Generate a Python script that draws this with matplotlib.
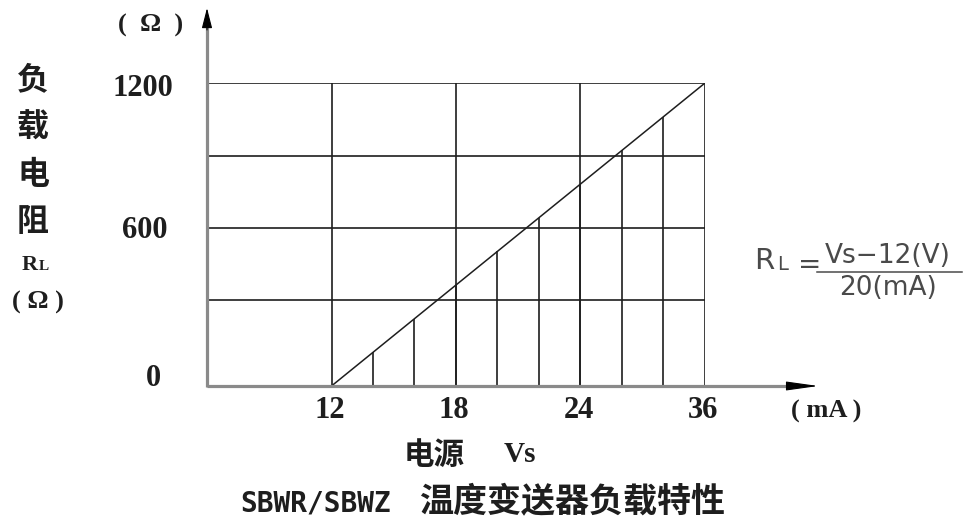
import numpy as np
import matplotlib
matplotlib.use("Agg")
import matplotlib.pyplot as plt
from matplotlib.lines import Line2D

# datos del grafico (columnas de la rejilla = tensiones marcadas)
x_labels = ["12", "18", "24", "36"]
x_cols = [1, 2, 3, 4]
grid_rows = [340, 625, 910, 1200]
y_labels = ["0", "600", "1200"]
y_label_pos = [0, 625, 1200]
linea_x = [1, 4]
linea_r = [0, 1200]
rayas_por_col = 3

W, H = 965, 525
fig = plt.figure(figsize=(W / 100, H / 100), dpi=100)
fig.patch.set_facecolor("white")

def px(x, y):
    return x / W, 1 - y / H

# ejes: origen en (207, 386), columna 36 en x=705, fila 1200 en y=83
ax = fig.add_axes([207 / W, (H - 386) / H, 498 / W, 303 / H])
ax.set_xlim(0, 4)
ax.set_ylim(0, 1200)
ax.axis("off")

negro = "#1e1e1e"
gris_eje = "#8a8a8a"

ax.vlines(x_cols, 0, 1200, color=negro, lw=1.2)
ax.hlines(grid_rows, 0, 4, color=negro, lw=1.2)

# recta de carga y rayado
ax.plot(linea_x, linea_r, color=negro, lw=1.1)
rayas_x = np.arange(linea_x[0], linea_x[1], 1 / rayas_por_col)[1:]
rayas_r = np.interp(rayas_x, linea_x, linea_r)
ax.vlines(rayas_x, 0, rayas_r, color=negro, lw=1.2)

# ejes con flecha
ax.plot([0, 4.70], [0, 0], color=gris_eje, lw=2.3, clip_on=False, solid_capstyle="butt")
ax.plot([0, 0], [-4, 1425], color=gris_eje, lw=2.3, clip_on=False, solid_capstyle="butt")
ax.annotate("", xy=(4.91, 0), xytext=(4.66, 0), annotation_clip=False,
            arrowprops=dict(arrowstyle="-|>,head_length=2.0,head_width=0.28",
                            color="black", lw=0.8, shrinkA=0, shrinkB=0))
ax.annotate("", xy=(0, 1497), xytext=(0, 1410), annotation_clip=False,
            arrowprops=dict(arrowstyle="-|>,head_length=1.25,head_width=0.32",
                            color="black", lw=0.8, shrinkA=0, shrinkB=0))

serif = ["Liberation Serif", "Noto Sans CJK SC"]
cjk = ["Noto Sans CJK SC", "DejaVu Sans"]

# etiquetas del eje y
y_dx = [-54, -62, -64]
y_dy = [8, -2, -5]
for lab, pos, dx, dy in zip(y_labels, y_label_pos, y_dx, y_dy):
    ax.annotate(lab, xy=(0, pos), xytext=(dx, dy), textcoords="offset pixels",
                ha="center", va="center", fontsize=22, fontweight="bold",
                family=serif, color=negro, annotation_clip=False)

# etiquetas del eje x
for lab, c in zip(x_labels, x_cols):
    ax.annotate(lab, xy=(c, 0), xytext=(-2, -25), textcoords="offset pixels",
                ha="center", va="center", fontsize=22, fontweight="bold",
                family=serif, color=negro, annotation_clip=False)

fig.text(*px(826, 411), "( mA )", ha="center", va="center", fontsize=19,
         fontweight="bold", family=serif, color=negro)
fig.text(*px(151, 25), "(  Ω  )", ha="center", va="center", fontsize=19,
         fontweight="bold", family=serif, color=negro)

# titulo vertical del eje y
for ch, yy in zip("负载电阻", [80, 128, 175, 222]):
    fig.text(*px(33, yy), ch, ha="center", va="center", fontsize=23,
             fontweight="bold", family=cjk, color=negro)
fig.text(*px(30, 265), "R", ha="center", va="center", fontsize=16,
         fontweight="bold", family=serif, color=negro)
fig.text(*px(44, 267), "L", ha="center", va="center", fontsize=11,
         fontweight="bold", family=serif, color=negro)
fig.text(*px(38, 302), "( Ω )", ha="center", va="center", fontsize=19,
         fontweight="bold", family=serif, color=negro)

# titulo del eje x y titulo general
fig.text(*px(434, 455), "电源", ha="center", va="center", fontsize=22,
         fontweight="bold", family=cjk, color=negro)
fig.text(*px(520, 455), "Vs", ha="center", va="center", fontsize=21,
         fontweight="bold", family=serif, color=negro)
fig.text(*px(240, 503), "SBWR/SBWZ", ha="left", va="center", fontsize=20,
         fontweight="bold", family=["DejaVu Sans Mono"], color=negro)
fig.text(*px(572, 502), "温度变送器负载特性", ha="center", va="center", fontsize=24.5,
         fontweight="bold", family=cjk, color=negro)

# formula
gris_f = "#4a4a4a"
fig.text(*px(764, 261), "R", ha="center", va="center", fontsize=21,
         family=["DejaVu Sans"], color=gris_f)
fig.text(*px(783, 264), "L", ha="center", va="center", fontsize=14,
         family=["DejaVu Sans"], color=gris_f)
fig.text(*px(810, 265), "=", ha="center", va="center", fontsize=20,
         family=["DejaVu Sans"], color=gris_f)
fig.text(*px(888, 256), "Vs−12(V)", ha="center", va="center", fontsize=19,
         family=["DejaVu Sans"], color=gris_f)
fig.text(*px(888, 288), "20(mA)", ha="center", va="center", fontsize=19,
         family=["DejaVu Sans"], color=gris_f)
fig.add_artist(Line2D([817 / W, 962 / W], [1 - 272 / H, 1 - 272 / H],
                      transform=fig.transFigure, color=gris_f, lw=1.1))

fig.savefig("out.png", dpi=100, facecolor="white")
